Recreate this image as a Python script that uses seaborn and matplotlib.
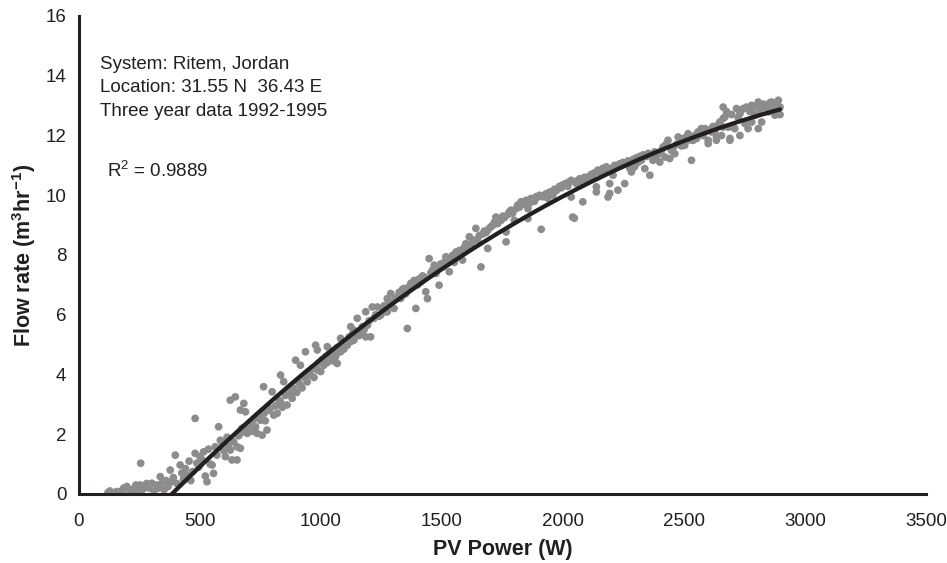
import matplotlib
matplotlib.use("Agg")
import numpy as np
import pandas as pd
import seaborn as sns
import matplotlib.pyplot as plt

# ---------------- data ----------------
# PV power (W), flow rate (m3/hr) pairs, split by power range
points_low = [
    (120, 0.05), (128, 0.1), (140, 0.0), (150, 0.05), (156, 0.08), (165, 0.0),
    (175, 0.1), (185, 0.2), (198, 0.25), (205, 0.0), (215, 0.15), (225, 0.05),
    (235, 0.3), (245, 0.1), (253, 0.3), (255, 1.03), (262, 0.15), (270, 0.2),
    (280, 0.35), (290, 0.2), (301, 0.36), (310, 0.1), (322, 0.3), (330, 0.2),
    (336, 0.58), (345, 0.4), (352, 0.15), (360, 0.45), (368, 0.25), (377, 0.8),
    (384, 0.41), (390, 0.55), (398, 1.3), (405, 0.35), (418, 0.97), (425, 0.7),
    (432, 0.5), (440, 0.85), (446, 0.64), (455, 1.1), (462, 0.45), (470, 0.75),
    (480, 2.53), (480, 1.36), (487, 1.03), (495, 0.9), (500, 1.25), (508, 1.15),
    (515, 1.41), (522, 0.6), (529, 0.41), (535, 1.5), (542, 1.0), (550, 0.97),
    (556, 0.69), (563, 1.58), (570, 1.3), (577, 2.25), (584, 1.8), (592, 1.7),
    (598, 1.45), (605, 1.25), (612, 1.9), (618, 1.6), (625, 1.47), (625, 3.14),
    (632, 1.14), (639, 1.75), (646, 3.25), (653, 1.14), (660, 1.95), (667, 2.81),
    (667, 1.53), (674, 2.2), (681, 3.03), (688, 2.75), (695, 2.03), (653, 1.58),
    (667, 2.03), (695, 2.14),
]

points_mid = [
    (700, 2.3), (708, 2.36), (715, 2.1), (722, 2.5), (730, 2.25), (736, 2.03),
    (742, 2.6), (750, 2.47), (750, 2.64), (757, 1.97), (763, 3.59), (765, 2.7),
    (770, 2.45), (777, 2.14), (784, 2.8), (791, 2.87), (798, 3.42), (805, 2.64),
    (812, 2.95), (819, 2.7), (826, 3.15), (833, 3.09), (833, 3.98), (840, 2.9),
    (846, 3.76), (853, 3.3), (860, 2.98), (867, 3.45), (874, 3.31), (881, 3.2),
    (888, 3.54), (895, 4.48), (900, 3.4), (907, 3.75), (915, 3.65), (915, 4.31),
    (922, 3.55), (929, 3.95), (936, 3.88), (936, 4.76), (943, 3.75), (950, 4.1),
    (957, 3.98), (964, 4.2), (971, 3.9), (978, 4.98), (978, 4.25), (985, 4.15),
    (985, 4.82), (992, 4.4), (999, 4.1), (1005, 4.5), (1012, 4.31), (1019, 4.6),
    (1026, 4.93), (1026, 4.4), (1033, 4.7), (1040, 4.54), (1047, 4.8), (1053, 4.45),
    (1060, 4.59), (1067, 4.37), (1067, 4.9), (1074, 4.75), (1081, 4.76), (1081, 5.21),
    (1088, 5.0), (1095, 4.85), (1102, 5.1), (1109, 4.98), (1116, 5.25), (1123, 5.6),
    (1123, 5.1), (1130, 5.35), (1136, 5.15), (1136, 5.48), (1143, 5.4), (1150, 5.88),
    (1157, 5.3), (1164, 5.37), (1171, 5.6), (1178, 5.5), (1185, 5.26), (1185, 6.1),
    (1192, 5.65), (1199, 5.8), (1205, 5.26), (1212, 6.26), (1219, 5.88), (1226, 6.0),
    (1233, 6.26), (1240, 5.95), (1247, 5.99), (1254, 6.2), (1261, 6.3), (1268, 6.1),
    (1274, 6.54), (1274, 6.1), (1281, 6.4), (1288, 6.71), (1295, 6.45),
]

points_upper_mid = [
    (1302, 6.21), (1309, 6.54), (1316, 6.6), (1323, 6.75), (1330, 6.55), (1337, 6.85),
    (1343, 6.88), (1350, 6.7), (1357, 5.54), (1364, 6.93), (1371, 7.05), (1378, 6.95),
    (1385, 7.15), (1392, 6.21), (1399, 7.0), (1406, 7.2), (1413, 7.1), (1420, 7.3),
    (1427, 7.25), (1433, 6.77), (1440, 6.54), (1447, 7.88), (1454, 7.4), (1461, 7.5),
    (1468, 7.66), (1475, 7.38), (1482, 7.55), (1488, 6.99), (1495, 7.7), (1502, 7.6),
    (1509, 7.75), (1516, 7.94), (1523, 7.85), (1530, 7.44), (1537, 7.9), (1544, 7.99),
    (1551, 7.75), (1558, 8.1), (1565, 8.0), (1572, 8.15), (1579, 8.05), (1585, 7.83),
    (1592, 8.25), (1599, 8.38), (1606, 8.2), (1613, 8.61), (1620, 8.3), (1627, 8.45),
    (1634, 8.5), (1640, 8.89), (1647, 8.5), (1654, 8.65), (1661, 7.6), (1668, 8.7),
    (1675, 8.8), (1682, 8.75), (1689, 8.22), (1689, 8.83), (1696, 8.9), (1703, 8.95),
    (1710, 9.0), (1717, 9.1), (1723, 9.27), (1730, 9.05), (1737, 9.2), (1744, 9.16),
    (1751, 9.3), (1758, 9.25), (1765, 8.77), (1765, 8.44), (1772, 9.35), (1778, 9.44),
    (1785, 9.5), (1792, 9.4), (1799, 9.16), (1806, 9.55), (1813, 9.67), (1820, 9.6),
    (1827, 9.78), (1834, 9.7), (1841, 9.78), (1848, 9.83), (1855, 9.55), (1855, 9.22),
    (1861, 9.72), (1868, 9.89), (1875, 9.85), (1882, 9.8), (1889, 9.95), (1896, 9.94),
]

points_upper = [
    (1903, 10.0), (1910, 8.86), (1917, 9.95), (1923, 10.0), (1930, 10.05), (1937, 9.9),
    (1944, 10.1), (1951, 10.11), (1958, 10.0), (1965, 10.2), (1972, 10.15), (1979, 10.22),
    (1986, 10.3), (1993, 10.25), (2000, 10.35), (2006, 10.33), (2013, 10.4), (2020, 10.3),
    (2027, 10.45), (2034, 10.5), (2034, 9.94), (2040, 9.27), (2047, 9.23), (2054, 10.4),
    (2062, 10.5), (2069, 10.55), (2075, 10.45), (2082, 9.78), (2089, 10.6), (2096, 10.5),
    (2103, 10.61), (2110, 10.55), (2117, 10.7), (2124, 10.65), (2131, 10.75), (2138, 10.28),
    (2138, 10.11), (2144, 10.84), (2151, 10.8), (2158, 10.7), (2165, 10.9), (2172, 10.85),
    (2179, 10.95), (2186, 9.94), (2193, 10.06), (2193, 10.39), (2200, 10.9), (2207, 10.67),
    (2214, 11.0), (2221, 10.95), (2227, 10.17), (2234, 11.05), (2241, 11.0), (2248, 11.1),
    (2255, 10.39), (2262, 11.05), (2269, 11.15), (2276, 10.9), (2283, 10.78), (2290, 11.2),
    (2296, 10.95), (2303, 11.25), (2310, 11.1), (2317, 11.3), (2324, 11.17), (2331, 11.35),
    (2338, 10.89), (2345, 11.3), (2352, 11.4), (2359, 10.67), (2365, 11.34), (2372, 11.17),
    (2379, 11.45), (2386, 11.3), (2393, 11.39), (2400, 11.11), (2407, 11.5), (2414, 11.62),
    (2421, 11.28), (2428, 11.73), (2434, 11.84), (2441, 11.23), (2448, 11.5),
]

points_top = [
    (2455, 11.6), (2462, 11.39), (2469, 11.7), (2476, 11.95), (2483, 11.8), (2490, 11.65),
    (2497, 11.9), (2503, 11.67), (2510, 11.95), (2517, 12.06), (2524, 11.85), (2531, 11.17),
    (2538, 11.84), (2545, 12.0), (2552, 11.9), (2558, 12.0), (2558, 12.12), (2565, 12.1),
    (2572, 12.23), (2579, 12.0), (2586, 12.23), (2593, 12.15), (2600, 11.84), (2600, 11.73),
    (2607, 12.2), (2614, 12.12), (2620, 12.3), (2627, 12.12), (2634, 11.95), (2634, 11.84),
    (2641, 12.35), (2648, 12.45), (2655, 12.0), (2662, 12.95), (2662, 12.57), (2662, 12.28),
    (2669, 12.62), (2676, 12.8), (2683, 12.28), (2690, 11.84), (2690, 11.9), (2697, 12.7),
    (2703, 12.28), (2710, 12.23), (2717, 12.9), (2724, 12.6), (2731, 12.73), (2731, 12.0),
    (2738, 12.85), (2745, 12.9), (2752, 12.4), (2758, 12.95), (2765, 12.23), (2772, 12.8),
    (2780, 13.01), (2780, 12.45), (2786, 12.9), (2793, 12.68), (2800, 12.95), (2807, 13.12),
    (2807, 12.23), (2814, 12.85), (2821, 12.45), (2828, 13.05), (2835, 13.01), (2842, 12.9),
    (2849, 12.79), (2855, 13.1), (2862, 13.12), (2869, 12.95), (2876, 12.68), (2883, 13.05),
    (2890, 13.18), (2897, 12.95), (2897, 12.7),
]

# second-order polynomial trend line
trend_coef = [-1.1634e-6, 0.008940, -3.262]
r_squared = "0.9889"

x_ticks = [0, 500, 1000, 1500, 2000, 2500, 3000, 3500]
y_ticks = [0, 2, 4, 6, 8, 10, 12, 14, 16]

info_lines = ["System: Ritem, Jordan",
              "Location: 31.55 N  36.43 E",
              "Three year data 1992-1995"]

# ---------------- figure ----------------
sns.set_style("white")
plt.rcParams["font.family"] = ["Liberation Sans", "DejaVu Sans"]
plt.rcParams["mathtext.fontset"] = "custom"
plt.rcParams["mathtext.rm"] = "Liberation Sans"
plt.rcParams["mathtext.it"] = "Liberation Sans:italic"
plt.rcParams["mathtext.bf"] = "Liberation Sans:bold"

all_pts = points_low + points_mid + points_upper_mid + points_upper + points_top
df = pd.DataFrame(all_pts, columns=["power", "flow"])

fig = plt.figure(figsize=(9.47, 5.63), dpi=100)
ax = fig.add_axes([0.0834, 0.1226, 0.8944, 0.849])

sns.scatterplot(data=df, x="power", y="flow", color="#8c8c8c", s=31,
                edgecolor="none", linewidth=0, ax=ax, zorder=2)

xf = np.linspace(df["power"].min(), df["power"].max(), 400)
fit = pd.DataFrame({"power": xf, "flow": np.polyval(trend_coef, xf)})
sns.lineplot(data=fit, x="power", y="flow", color="#231f20", linewidth=3.1,
             ax=ax, zorder=3)

ax.set_xlim(0, 3500)
ax.set_ylim(0, 16)
ax.set_xticks(x_ticks)
ax.set_yticks(y_ticks)
ax.set_xticklabels([str(v) for v in x_ticks])
ax.set_yticklabels([str(v) for v in y_ticks])

for s in ["top", "right"]:
    ax.spines[s].set_visible(False)
for s in ["left", "bottom"]:
    ax.spines[s].set_linewidth(2.2)
    ax.spines[s].set_color("#231f20")
    ax.spines[s].set_zorder(4)

ax.tick_params(axis="both", direction="out", length=5, width=2,
               color="#231f20", labelsize=13.5, labelcolor="#231f20")
ax.tick_params(axis="y", pad=4)
ax.tick_params(axis="x", pad=9)

ax.set_xlabel("PV Power (W)", fontsize=15.5, fontweight="bold", color="#231f20")
ax.set_ylabel(r"Flow rate (m$^{\mathbf{3}}$hr$^{\mathbf{-1}}$)", fontsize=15.5,
              fontweight="bold", color="#231f20")
ax.xaxis.set_label_coords(0.5, -0.094)
ax.yaxis.set_label_coords(-0.048, 0.5)

ax.text(0.0248, 0.917, "\n".join(info_lines), transform=ax.transAxes,
        fontsize=13.5, va="top", ha="left", linespacing=1.5, color="#231f20")
ax.text(0.033, 0.675, r"R$^2$ = " + r_squared, transform=ax.transAxes,
        fontsize=13.5, va="center", ha="left", color="#231f20")

fig.savefig("out.png", dpi=100)
